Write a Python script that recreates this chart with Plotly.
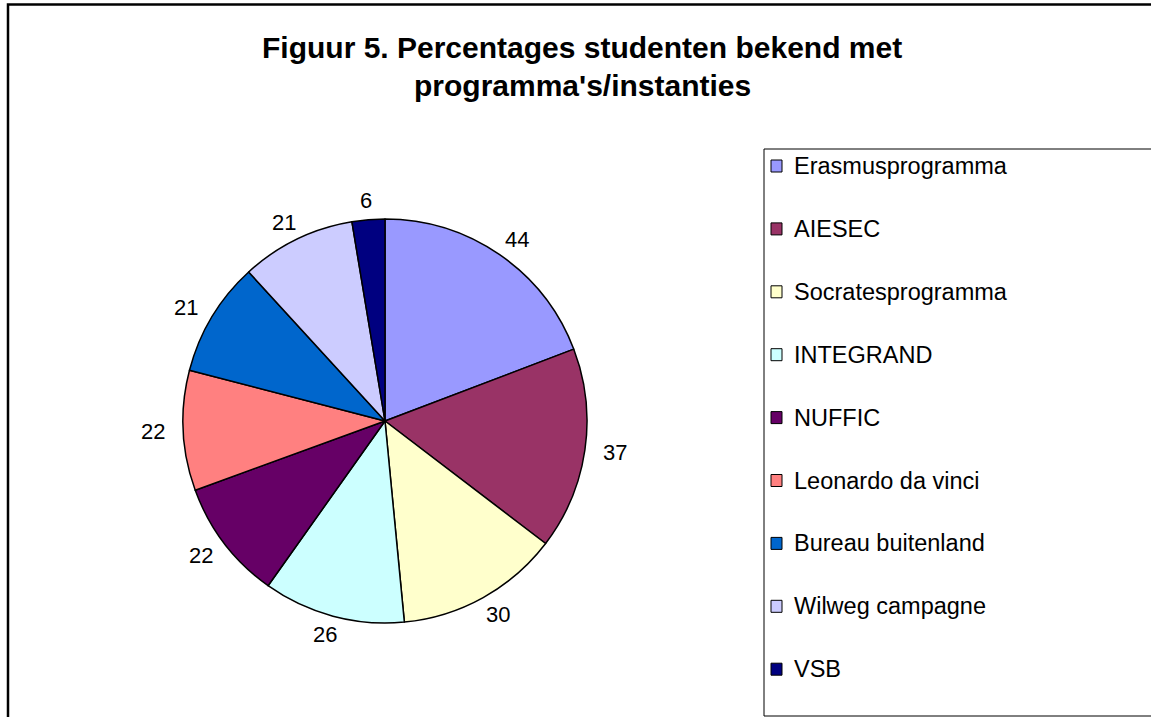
import numpy as np
import plotly.graph_objects as go

categories = ["Erasmusprogramma", "AIESEC", "Socratesprogramma", "INTEGRAND", "NUFFIC",
              "Leonardo da vinci", "Bureau buitenland", "Wilweg campagne", "VSB"]
values = [44, 37, 30, 26, 22, 22, 21, 21, 6]
colors = ["#9999FF", "#993366", "#FFFFCC", "#CCFFFF", "#660066",
          "#FF8080", "#0066CC", "#CCCCFF", "#000080"]
title_lines = ["Figuur 5. Percentages studenten bekend met", "programma's/instanties"]

W, H = 1151, 717
FONT = "Liberation Sans, Arial, sans-serif"

def px(x):
    return x / W

def py(y):
    return 1 - y / H

cx, cy, r = 385, 421, 202

fig = go.Figure()
fig.add_trace(go.Pie(
    labels=categories, values=values, sort=False, direction="clockwise", rotation=0,
    marker=dict(colors=colors, line=dict(color="black", width=1.5)),
    textinfo="none",
    showlegend=False, hoverinfo="label+value",
    domain=dict(x=[px(cx - r), px(cx + r)], y=[py(cy + r), py(cy - r)]),
))

shapes = []
annotations = []

# value labels placed outside each slice at its mid-angle
vals = np.array(values, dtype=float)
cum = np.cumsum(vals) - vals / 2
mid = cum / vals.sum() * 2 * np.pi
lrx, lry = 232, 221
for v, a in zip(values, mid):
    lx = cx + lrx * np.sin(a)
    ly = cy - lry * np.cos(a)
    annotations.append(dict(text=str(v), xref="paper", yref="paper", x=px(lx), y=py(ly),
                            xanchor="center", yanchor="middle", showarrow=False,
                            font=dict(family=FONT, size=22, color="black")))

# outer frame
shapes.append(dict(type="rect", xref="paper", yref="paper",
                   x0=px(8), x1=px(W + 40), y0=py(H + 40), y1=py(4.5),
                   line=dict(color="black", width=2.5), fillcolor="rgba(0,0,0,0)"))
# legend box
shapes.append(dict(type="rect", xref="paper", yref="paper",
                   x0=px(764), x1=px(W + 40), y0=py(716), y1=py(149),
                   line=dict(color="black", width=1), fillcolor="rgba(0,0,0,0)"))
# title
for i, line in enumerate(title_lines):
    annotations.append(dict(text="<b>" + line + "</b>", xref="paper", yref="paper",
                            x=px(582), y=py(48 + 37 * i), xanchor="center", yanchor="middle",
                            showarrow=False, font=dict(family=FONT, size=30, color="black")))
# manual legend
for i, (cat, col) in enumerate(zip(categories, colors)):
    yc = 166 + 62.9 * i
    shapes.append(dict(type="rect", xref="paper", yref="paper",
                       x0=px(771), x1=px(782), y0=py(yc + 6), y1=py(yc - 6),
                       line=dict(color="black", width=1), fillcolor=col))
    annotations.append(dict(text=cat, xref="paper", yref="paper", x=px(792), y=py(yc),
                            xanchor="left", yanchor="middle", showarrow=False,
                            font=dict(family=FONT, size=23.5, color="black")))

fig.update_layout(
    width=W, height=H, margin=dict(l=0, r=0, t=0, b=0),
    paper_bgcolor="white", plot_bgcolor="white",
    shapes=shapes, annotations=annotations, showlegend=False,
)
fig.write_html("out.html", config={"displayModeBar": False},
               post_script="document.body.style.margin='0px';document.body.style.overflow='hidden';")
